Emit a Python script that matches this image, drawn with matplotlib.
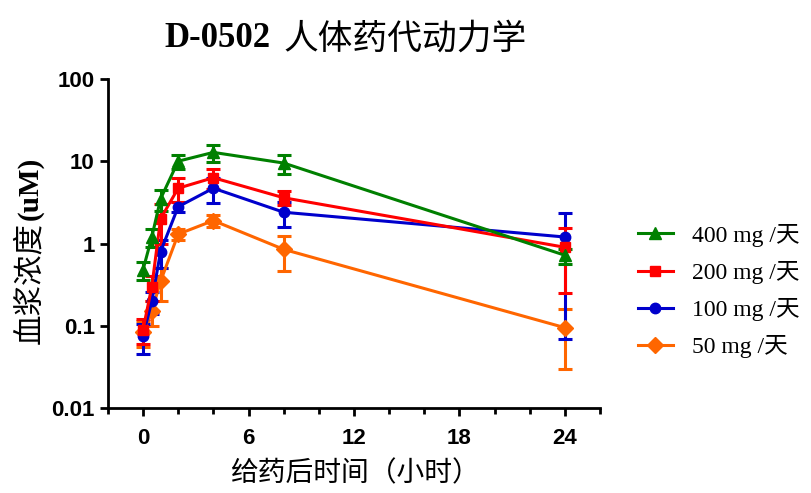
import matplotlib
matplotlib.use("Agg")
import matplotlib.pyplot as plt
from matplotlib.lines import Line2D
from matplotlib.ticker import FixedLocator, MultipleLocator, NullLocator

# time points (h)
t = [0, 0.5, 1, 2, 4, 8, 24]

# mean plasma concentration (uM) and SD for each dose
c400 = [0.48, 1.2, 3.5, 10.0, 12.8, 9.5, 0.72]
sd400 = [0.12, 0.3, 1.0, 2.0, 3.0, 2.5, 0.15]
c200 = [0.09, 0.3, 2.0, 4.7, 6.3, 3.6, 0.9]
sd200 = [0.03, 0.1, 1.0, 1.5, 1.7, 0.7, 0.65]
c100 = [0.075, 0.2, 0.8, 2.8, 4.7, 2.4, 1.2]
sd100 = [0.03, 0.06, 0.3, 0.4, 1.6, 0.8, 1.13]
c50 = [0.085, 0.15, 0.35, 1.3, 1.9, 0.85, 0.095]
sd50 = [0.03, 0.05, 0.15, 0.2, 0.3, 0.38, 0.065]

labels = ["400 mg /天", "200 mg /天", "100 mg /天", "50 mg /天"]

serif_cjk = ["Liberation Serif", "Noto Sans CJK SC"]

fig = plt.figure(figsize=(8.11, 4.93), dpi=100)
ax = fig.add_axes([0.133, 0.172, 0.607, 0.668])

# draw order: orange at bottom, green on top
series = [
    (c50, sd50, "#FF6600", "D", 8.5, labels[3]),
    (c100, sd100, "#0000CC", "o", 7.5, labels[2]),
    (c200, sd200, "#FF0000", "s", 7.5, labels[1]),
    (c400, sd400, "#008000", "^", 8.5, labels[0]),
]
handles = {}
for y, err, col, mk, ms, lab in series:
    ax.errorbar(t, y, yerr=err, color=col, marker=mk, markersize=ms,
                linewidth=2.2, elinewidth=2.2, capsize=5, capthick=2.2)
    handles[lab] = Line2D([], [], color=col, marker=mk, markersize=ms,
                          linewidth=2.2)

ax.set_yscale("log")
ax.set_ylim(0.01, 100)
ax.set_xlim(-2, 26)
ax.yaxis.set_major_locator(FixedLocator([0.01, 0.1, 1, 10, 100]))
ax.yaxis.set_minor_locator(NullLocator())
ax.set_yticklabels(["0.01", "0.1", "1", "10", "100"])
ax.xaxis.set_major_locator(FixedLocator([0, 6, 12, 18, 24]))
ax.xaxis.set_minor_locator(MultipleLocator(2))

for s in ["top", "right"]:
    ax.spines[s].set_visible(False)
for s in ["left", "bottom"]:
    ax.spines[s].set_linewidth(2)
ax.tick_params(which="major", length=6, width=2, labelsize=16)
ax.tick_params(which="minor", length=4, width=2)
ax.tick_params(axis="x", pad=8)
for lbl in ax.get_xticklabels() + ax.get_yticklabels():
    lbl.set_fontfamily("Liberation Sans")
    lbl.set_fontweight("bold")

# title: bold latin part + regular chinese part
t1 = fig.text(0.203, 0.905, "D-0502", ha="left", va="baseline",
              fontsize=25, fontweight="bold", family="Liberation Serif")
ax.annotate("人体药代动力学", xy=(1, 0), xycoords=t1, xytext=(9, -1),
            textcoords="offset points", ha="left", va="bottom",
            fontsize=25, family="Noto Sans CJK SC", annotation_clip=False)

# y label: regular chinese + bold unit
y1 = fig.text(0.037, 0.303, "血浆浓度", rotation=90, ha="center", va="bottom",
              fontsize=22, family="Noto Sans CJK SC")
ax.annotate("(uM)", xy=(0.5, 1), xycoords=y1, xytext=(0, 1),
            textcoords="offset points", rotation=90, ha="center", va="bottom",
            fontsize=21, fontweight="bold", family="Liberation Serif",
            annotation_clip=False)

fig.text(0.438, 0.04, "给药后时间（小时）", ha="center", va="center",
         fontsize=20, family="Noto Sans CJK SC")

order = labels
fig.legend([handles[l] for l in order], order, loc="center left",
           bbox_to_anchor=(0.76, 0.41), frameon=False,
           prop={"family": serif_cjk, "size": 17},
           handlelength=1.5, labelspacing=0.6, handletextpad=0.8)

fig.savefig("out.png", dpi=100)
